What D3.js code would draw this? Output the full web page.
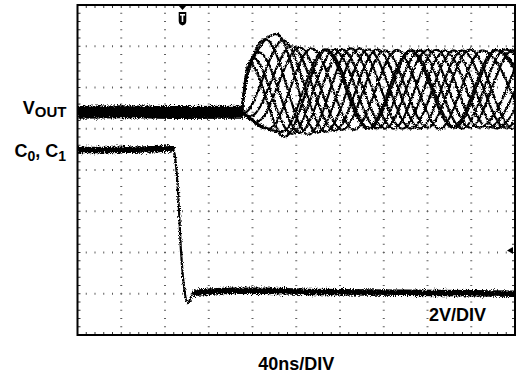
<!DOCTYPE html>
<html>
<head>
<meta charset="utf-8">
<script src="https://cdn.jsdelivr.net/npm/d3@7"></script>
<style>
  html, body { margin: 0; padding: 0; background: #fff; }
  svg { display: block; }
  text { font-family: "Liberation Sans", Arial, sans-serif; font-weight: bold; fill: #000; }
</style>
</head>
<body>
<svg id="scope" width="519" height="374"></svg>
<script>
// Screen: 10 divisions of 40 ns, 8 divisions of 2 V
const timeTicks = [0, 40, 80, 120, 160, 200, 240, 280, 320, 360, 400];
const voltTicks = [-8, -6, -4, -2, 0, 2, 4, 6, 8];
const minorPerDiv = 5;

// Trigger position (ns) and trigger level (V)
const triggerTime = 96;
const triggerLevel = -3.9;

// C0, C1 select line: high, falling edge, settles low (ns, V)
const selectTrace = [
  [0, 0.97], [40, 0.98], [75, 1.02], [85, 1.05], [87.8, 0.95], [89.1, 0.63],
  [92.2, -1.31], [94.4, -3.73], [97.4, -5.67], [100.8, -6.45], [105.9, -5.96],
  [120, -5.9], [140, -5.85], [170, -5.85], [220, -5.92], [300, -5.95], [400, -6.0]
];

// VOUT before switching (ns, V)
const vOutIdle = [[0, 2.8], [40, 2.83], [90, 2.79], [152, 2.8]];

// VOUT persistence sweeps after switching: turning points (ns, V)
const sweepA = [[150, 2.8], [157, 5.2], [189, 1.6], [228, 5.85], [267, 2.0], [306, 5.8], [345, 2.05], [384, 5.82], [423, 2.0]];
const sweepB = [[150, 2.8], [154, 4.3], [166, 5.7], [203, 1.8], [242, 5.85], [281, 2.0], [320, 5.82], [359, 2.05], [398, 5.8], [437, 2.0]];
const sweepC = [[150, 2.8], [156, 4.8], [182, 6.6], [219, 1.8], [258, 5.9], [297, 2.0], [336, 5.8], [375, 2.05], [414, 5.8]];
const sweepD = [[150, 2.8], [158, 2.6], [196, 6.0], [235, 1.9], [274, 5.85], [313, 2.02], [352, 5.8], [391, 2.05], [430, 5.8]];
const sweepE = [[150, 2.8], [164, 2.35], [203, 5.95], [242, 1.95], [281, 5.8], [320, 2.05], [359, 5.85], [398, 2.0], [437, 5.8]];
const sweepF = [[150, 2.8], [175, 2.0], [214, 5.9], [253, 1.95], [292, 5.82], [331, 2.0], [370, 5.8], [409, 2.05]];
const sweepG = [[150, 2.8], [187, 1.85], [226, 5.85], [265, 2.0], [304, 5.8], [343, 2.05], [382, 5.82], [421, 2.0]];
const sweepH = [[150, 2.8], [153, 4.0], [160, 5.45], [196, 1.75], [235, 5.85], [274, 2.02], [313, 5.8], [352, 2.0], [391, 5.85], [430, 2.0]];
const sweepI = [[150, 2.8], [155, 4.5], [172, 6.35], [211, 1.7], [250, 5.9], [289, 2.0], [328, 5.82], [367, 2.05], [406, 5.8]];
const sweepJ = [[150, 2.8], [152, 2.75], [188, 6.3], [227, 1.85], [266, 5.85], [305, 2.0], [344, 5.8], [383, 2.02], [422, 5.85]];
const vOutSweeps = [sweepA, sweepB, sweepC, sweepD, sweepE, sweepF, sweepG, sweepH, sweepI, sweepJ];

const svg = d3.select("#scope");
const plot = { left: 77.5, right: 515, top: 5, bottom: 335 };

const x = d3.scaleLinear().domain([timeTicks[0], timeTicks[timeTicks.length - 1]]).range([plot.left, plot.right]);
const y = d3.scaleLinear().domain([voltTicks[0], voltTicks[voltTicks.length - 1]]).range([plot.bottom, plot.top]);

const timeStep = (timeTicks[1] - timeTicks[0]) / minorPerDiv;
const voltStep = (voltTicks[1] - voltTicks[0]) / minorPerDiv;
const minorTimes = d3.range(timeTicks[0], timeTicks[timeTicks.length - 1] + 1e-6, timeStep);
const minorVolts = d3.range(voltTicks[0], voltTicks[voltTicks.length - 1] + 1e-6, voltStep);

const defs = svg.append("defs");
defs.append("clipPath").attr("id", "screen")
  .append("rect")
  .attr("x", plot.left).attr("y", plot.top)
  .attr("width", plot.right - plot.left).attr("height", plot.bottom - plot.top);

function noiseFilter(id, freq, scale, seed) {
  const f = defs.append("filter").attr("id", id)
    .attr("x", "-5%").attr("y", "-30%").attr("width", "110%").attr("height", "160%");
  f.append("feTurbulence").attr("type", "fractalNoise").attr("baseFrequency", freq)
    .attr("numOctaves", 2).attr("seed", seed).attr("result", "n");
  f.append("feDisplacementMap").attr("in", "SourceGraphic").attr("in2", "n")
    .attr("scale", scale).attr("xChannelSelector", "R").attr("yChannelSelector", "G");
}
noiseFilter("grainThick", 0.9, 6.5, 4);
noiseFilter("grainThin", 0.8, 3.8, 7);

// Dotted graticule
const grid = svg.append("g").attr("fill", "#5e5e5e");
timeTicks.slice(1, -1).forEach(t => {
  grid.selectAll(null).data(minorVolts.slice(1, -1)).join("rect")
    .attr("x", x(t) - 1).attr("y", v => y(v) - 0.5).attr("width", 2).attr("height", 1);
});
voltTicks.slice(1, -1).forEach(v => {
  grid.selectAll(null).data(minorTimes.slice(1, -1)).join("rect")
    .attr("x", t => x(t) - 0.5).attr("y", y(v) - 1).attr("width", 1).attr("height", 2);
});

// Minor ticks along the frame
const ticks = svg.append("g").attr("stroke", "#333").attr("stroke-width", 1);
ticks.selectAll(null).data(minorTimes.slice(1, -1)).join("line")
  .attr("x1", t => x(t)).attr("x2", t => x(t)).attr("y1", plot.top).attr("y2", plot.top + 3);
ticks.selectAll(null).data(minorTimes.slice(1, -1)).join("line")
  .attr("x1", t => x(t)).attr("x2", t => x(t)).attr("y1", plot.bottom).attr("y2", plot.bottom - 3);
ticks.selectAll(null).data(minorVolts.slice(1, -1)).join("line")
  .attr("y1", v => y(v)).attr("y2", v => y(v)).attr("x1", plot.left).attr("x2", plot.left + 3);
ticks.selectAll(null).data(minorVolts.slice(1, -1)).join("line")
  .attr("y1", v => y(v)).attr("y2", v => y(v)).attr("x1", plot.right).attr("x2", plot.right - 3);

const line = d3.line().x(d => x(d[0])).y(d => y(d[1])).curve(d3.curveMonotoneX);

const traces = svg.append("g").attr("clip-path", "url(#screen)");

// Thick noisy bands where the signals sit still
const bands = traces.append("g").attr("filter", "url(#grainThick)")
  .attr("fill", "none").attr("stroke", "#000");
bands.append("path").attr("d", line(vOutIdle)).attr("stroke-width", 13);
bands.append("path").attr("d", line(selectTrace.filter(d => d[0] <= 87.8))).attr("stroke-width", 6.5);
bands.append("path").attr("d", line(selectTrace.filter(d => d[0] >= 104))).attr("stroke-width", 6.5);

// Thin trace lines
const thin = traces.append("g").attr("filter", "url(#grainThin)")
  .attr("fill", "none").attr("stroke", "#000").attr("stroke-linejoin", "round");
thin.append("path").attr("d", line(selectTrace)).attr("stroke-width", 2.2);
thin.selectAll(null).data(vOutSweeps).join("path")
  .attr("d", d => line(d)).attr("stroke-width", 2.2);

// Frame
svg.append("rect")
  .attr("x", plot.left).attr("y", plot.top)
  .attr("width", plot.right - plot.left).attr("height", plot.bottom - plot.top)
  .attr("fill", "none").attr("stroke", "#000").attr("stroke-width", 2);

// Trigger position marker
const tx = x(triggerTime);
svg.append("path")
  .attr("d", `M${tx - 4.5},${plot.top} L${tx + 4.5},${plot.top} L${tx},${plot.top + 5} Z`)
  .attr("fill", "#000");
svg.append("path")
  .attr("d", `M${tx - 3.8},${plot.top + 7} L${tx + 3.8},${plot.top + 7} L${tx + 3.8},${plot.top + 16} Q${tx + 3.8},${plot.top + 19.5} ${tx},${plot.top + 20.5} Q${tx - 3.8},${plot.top + 19.5} ${tx - 3.8},${plot.top + 16} Z`)
  .attr("fill", "#000");
svg.append("rect").attr("x", tx - 2.5).attr("y", plot.top + 9).attr("width", 5).attr("height", 1.6).attr("fill", "#fff");
svg.append("rect").attr("x", tx - 0.8).attr("y", plot.top + 9).attr("width", 1.6).attr("height", 8).attr("fill", "#fff");

// Trigger level marker
const ty = y(triggerLevel);
svg.append("path")
  .attr("d", `M${plot.right - 8},${ty} L${plot.right - 2},${ty - 3.5} L${plot.right - 2},${ty + 3.5} Z`)
  .attr("fill", "#000");

// Channel labels
const vLabel = svg.append("text").attr("x", 66.5).attr("y", 114).attr("text-anchor", "end").attr("font-size", 18);
vLabel.append("tspan").text("V");
vLabel.append("tspan").attr("font-size", 15).attr("dy", 2.5).text("OUT");

const cLabel = svg.append("text").attr("x", 66).attr("y", 157).attr("text-anchor", "end").attr("font-size", 18);
cLabel.append("tspan").text("C");
cLabel.append("tspan").attr("font-size", 14).attr("dy", 3.5).text("0");
cLabel.append("tspan").attr("dy", -3.5).text(", C");
cLabel.append("tspan").attr("font-size", 14).attr("dy", 3.5).text("1");

// Scale annotations
svg.append("text").attr("x", 486).attr("y", 320.5).attr("text-anchor", "end").attr("font-size", 18).text("2V/DIV");
svg.append("text").attr("x", (plot.left + plot.right) / 2).attr("y", 370).attr("text-anchor", "middle").attr("font-size", 18).text("40ns/DIV");
</script>
</body>
</html>
